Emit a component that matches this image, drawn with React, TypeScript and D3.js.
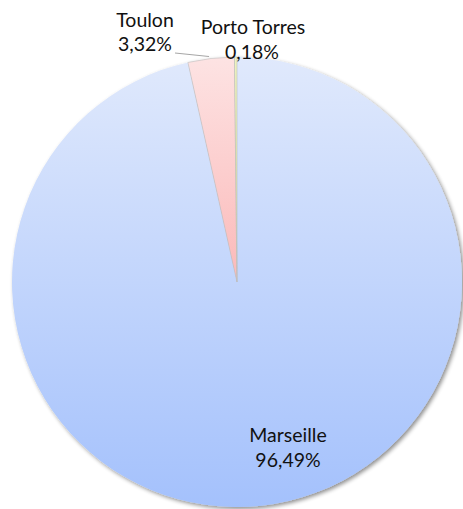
import React from "react";
import * as d3 from "d3";

const categories = ["Marseille", "Toulon", "Porto Torres"];
const values = [96.49, 3.32, 0.18];
const valueLabels = ["96,49%", "3,32%", "0,18%"];

const W = 463;
const H = 509;
const cx = 237;
const cy = 282;
const R = 225;

export default function App() {
  const pie = d3.pie<number>().sort(null).value((d) => d)(values);
  const arc = d3.arc<d3.PieArcDatum<number>>().innerRadius(0).outerRadius(R);
  const fills = ["url(#gBlue)", "url(#gPink)", "url(#gYellow)"];

  const toulon = pie[1];
  const tMid = (toulon.startAngle + toulon.endAngle) / 2;
  const edge: [number, number] = [Math.sin(tMid) * R, -Math.cos(tMid) * R];

  return (
    <svg
      width={W}
      height={H}
      style={{ position: "absolute", left: 0, top: 0, background: "#fff" }}
      fontFamily="Lato, 'Open Sans', sans-serif"
    >
      <defs>
        <linearGradient id="gBlue" gradientUnits="userSpaceOnUse" x1="0" y1={-R} x2="0" y2={R}>
          <stop offset="0" stopColor="#e0e9fc" />
          <stop offset="1" stopColor="#a4c1fc" />
        </linearGradient>
        <linearGradient id="gPink" gradientUnits="userSpaceOnUse" x1="0" y1={-R} x2="0" y2={0}>
          <stop offset="0" stopColor="#fde3e3" />
          <stop offset="1" stopColor="#fbb9b9" />
        </linearGradient>
        <linearGradient id="gYellow" gradientUnits="userSpaceOnUse" x1="0" y1={-R} x2="0" y2={0}>
          <stop offset="0" stopColor="#eef3c0" />
          <stop offset="1" stopColor="#d8e890" />
        </linearGradient>
        <filter id="shadow" x="-10%" y="-10%" width="120%" height="120%">
          <feGaussianBlur in="SourceAlpha" stdDeviation="2" />
          <feOffset dx="1.5" dy="2" result="b" />
          <feComponentTransfer>
            <feFuncA type="linear" slope="0.45" />
          </feComponentTransfer>
          <feMerge>
            <feMergeNode />
            <feMergeNode in="SourceGraphic" />
          </feMerge>
        </filter>
      </defs>
      <g transform={`translate(${cx},${cy})`}>
        <g filter="url(#shadow)">
          {pie.map((d, i) => (
            <path
              key={categories[i]}
              d={arc(d) || ""}
              fill={fills[i]}
              stroke="#bdbdbd"
              strokeWidth={0.6}
              strokeOpacity={i === 0 ? 0 : 1}
            />
          ))}
        </g>
        <polyline
          points={`${-62},${-229} ${edge[0] - 2},${edge[1] - 2}`}
          fill="none"
          stroke="#a6a6a6"
          strokeWidth={1}
        />
      </g>
      <g fill="#111" fontSize={19.5} textAnchor="middle">
        <text x={145} y={27}>{categories[1]}</text>
        <text x={145} y={51}>{valueLabels[1]}</text>
        <text x={253} y={34}>{categories[2]}</text>
        <text x={252} y={59}>{valueLabels[2]}</text>
        <text x={288} y={442}>{categories[0]}</text>
        <text x={288} y={467}>{valueLabels[0]}</text>
      </g>
    </svg>
  );
}
